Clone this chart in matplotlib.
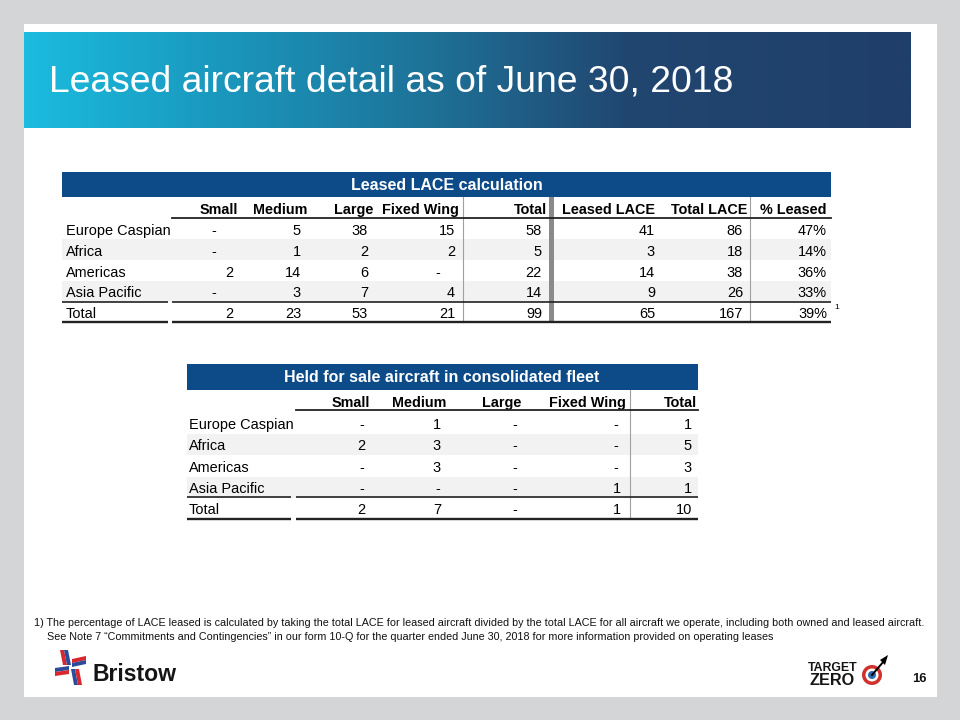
import matplotlib
matplotlib.use('Agg')
import matplotlib.pyplot as plt
from matplotlib.patches import Rectangle, Polygon, Circle
import numpy as np
from matplotlib.colors import LinearSegmentedColormap

plt.rcParams['font.family'] = ['Liberation Sans', 'DejaVu Sans']

# ---------------- data ----------------
TITLE = "Leased aircraft detail as of June 30, 2018"
regions = ["Europe Caspian", "Africa", "Americas", "Asia Pacific"]
total_label = "Total"

lace_title = "Leased LACE calculation"
lace_columns = ["Small", "Medium", "Large", "Fixed Wing", "Total",
                "Leased LACE", "Total LACE", "% Leased"]
lace_small = [0, 0, 2, 0]
lace_medium = [5, 1, 14, 3]
lace_large = [38, 2, 6, 7]
lace_fixed_wing = [15, 2, 0, 4]
lace_total = [58, 5, 22, 14]
leased_lace = [41, 3, 14, 9]
total_lace = [86, 18, 38, 26]
pct_leased = [47, 14, 36, 33]
lace_totals_row = [2, 23, 53, 21, 99, 65, 167, 39]

hfs_title = "Held for sale aircraft in consolidated fleet"
hfs_columns = ["Small", "Medium", "Large", "Fixed Wing", "Total"]
hfs_small = [0, 2, 0, 0]
hfs_medium = [1, 3, 3, 0]
hfs_large = [0, 0, 0, 0]
hfs_fixed_wing = [0, 0, 0, 1]
hfs_total = [1, 5, 3, 1]
hfs_totals_row = [2, 7, 0, 1, 10]

footnote_1 = ("1) The percentage of LACE leased is calculated by taking the total LACE for leased "
              "aircraft divided by the total LACE for all aircraft we operate, including both owned "
              "and leased aircraft.")
footnote_2 = ("See Note 7 \u201cCommitments and Contingencies\u201d in our form 10-Q for the quarter "
              "ended June 30, 2018 for more information provided on operating leases")
page_number = "16"

# ---------------- figure ----------------
PX = 0.72  # px -> pt at dpi 100
fig = plt.figure(figsize=(9.6, 7.2), dpi=100)
fig.patch.set_facecolor('#d4d5d7')
ax = fig.add_axes([0, 0, 1, 1])
ax.axis('off')

HEAD_BLUE = '#0c4a88'
SHADE = '#f2f2f2'

# white slide
ax.add_patch(Rectangle((24, 24), 913, 673, facecolor='white', edgecolor='none', zorder=0))

# title gradient bar
stops = [(0.0, '#1bbcdf'), (0.19, '#1a9cc2'), (0.45, '#1e7399'),
         (0.68, '#214670'), (1.0, '#1f3f6a')]
cmap = LinearSegmentedColormap.from_list('tb', stops)
grad = np.linspace(0, 1, 512).reshape(1, -1)
ax.imshow(grad, cmap=cmap, extent=(24, 911, 128, 32), aspect='auto', zorder=1)
ax.text(49, 92, TITLE, color='white', fontsize=37.3 * PX, ha='left', va='baseline', zorder=3)


def fmt(v, pct=False):
    if v == 0:
        return '-'
    return f"{v}%" if pct else f"{v}"


def draw_table(x0, x1, bar_top, bar_bot, title, title_cx, title_base,
               hdr_base, row_bases, total_base, label_x, columns, hdr_rights,
               val_rights, dash_offsets, data_cols, totals, pct_cols,
               shade_top, shade_bot):
    ax.add_patch(Rectangle((x0, bar_top), x1 - x0, bar_bot - bar_top,
                           facecolor=HEAD_BLUE, edgecolor='none', zorder=2))
    ax.text(title_cx, title_base, title, color='white', fontsize=16 * PX,
            fontweight='bold', ha='center', va='baseline', zorder=3)
    # shading alternate rows
    for i, b in enumerate(row_bases):
        if i % 2 == 1:
            ax.add_patch(Rectangle((x0, b - shade_top), x1 - x0, shade_top + shade_bot,
                                   facecolor=SHADE, edgecolor='none', zorder=1))
    # headers
    for c, r in zip(columns, hdr_rights):
        ax.text(r, hdr_base, c, fontsize=14.4 * PX, fontweight='bold',
                ha='right', va='baseline', color='black', zorder=3)
    # rows
    for i, (name, b) in enumerate(zip(regions, row_bases)):
        ax.text(label_x, b, name, fontsize=14.5 * PX, ha='left', va='baseline', zorder=3)
        for j, col in enumerate(data_cols):
            v = col[i]
            rx = val_rights[j] - (dash_offsets[j] if v == 0 else 0)
            ax.text(rx, b, fmt(v, j in pct_cols), fontsize=14.5 * PX,
                    ha='right', va='baseline', zorder=3)
    ax.text(label_x, total_base, total_label, fontsize=14.5 * PX, ha='left',
            va='baseline', zorder=3)
    for j, v in enumerate(totals):
        rx = val_rights[j] - (dash_offsets[j] if v == 0 else 0)
        ax.text(rx, total_base, fmt(v, j in pct_cols), fontsize=14.5 * PX,
                ha='right', va='baseline', zorder=3)


# ---------- table 1 ----------
t1_cols = [lace_small, lace_medium, lace_large, lace_fixed_wing, lace_total,
           leased_lace, total_lace, pct_leased]
draw_table(62, 831, 172, 197, lace_title, 446.5, 190,
           214.3, [235, 255.8, 276.6, 297.4], 318, 66, lace_columns,
           [238, 307, 373, 459, 547, 655, 747, 827],
           [233, 301, 368, 455, 542, 655, 743, 827],
           [16.5, 16.5, 16.5, 15, 16.5, 0, 0, 0],
           t1_cols, lace_totals_row, [7], 16.7, 4.3)
# vertical separators
ax.plot([463, 463], [197, 322], color='#a0a0a0', lw=0.8, zorder=2)
ax.add_patch(Rectangle((549, 197), 5, 125, facecolor='#8a8a8a', edgecolor='none', zorder=2))
ax.plot([750, 750], [197, 322], color='#a0a0a0', lw=0.8, zorder=2)
# horizontal rules
ax.plot([172, 831], [218.3, 218.3], color='#222222', lw=1.3, zorder=4)
for y, lw in [(301.7, 1.2), (321.7, 1.7)]:
    ax.plot([62, 168], [y, y], color='#222222', lw=lw, zorder=4, solid_capstyle='butt')
    ax.plot([172, 831], [y, y], color='#222222', lw=lw, zorder=4, solid_capstyle='butt')
ax.text(834, 309, '1', fontsize=8.5 * PX, ha='left', va='baseline', zorder=3)

# ---------- table 2 ----------
t2_cols = [hfs_small, hfs_medium, hfs_large, hfs_fixed_wing, hfs_total]
draw_table(186.5, 698, 364, 389.5, hfs_title, 442, 382.5,
           406.7, [429, 450.5, 472, 493.2], 513.8, 189, hfs_columns,
           [370, 446, 521, 626, 697],
           [365, 441, 517, 621, 692],
           [1, 1, 0, 3, 1],
           t2_cols, hfs_totals_row, [], 16.5, 4.5)
ax.plot([630, 630], [389.5, 519], color='#a0a0a0', lw=0.8, zorder=2)
ax.plot([296, 698], [410.2, 410.2], color='#222222', lw=1.3, zorder=4)
for y, lw in [(497.4, 1.2), (518.8, 1.7)]:
    ax.plot([186.5, 291], [y, y], color='#222222', lw=lw, zorder=4, solid_capstyle='butt')
    ax.plot([296, 698], [y, y], color='#222222', lw=lw, zorder=4, solid_capstyle='butt')

# ---------- footnote ----------
ax.text(34, 626.5, footnote_1, fontsize=10.7 * PX, ha='left', va='baseline', color='#111111')
ax.text(47, 639.5, footnote_2, fontsize=10.7 * PX, ha='left', va='baseline', color='#111111')

# ---------- Bristow logo ----------
RED = '#d7282f'
BLUE = '#2c4b9b'
blades = [
    # top (vertical stripes)
    ([(63, 665), (60, 650), (64, 650), (67, 665)], RED),
    ([(67, 665), (64, 650), (68, 650), (71, 665)], BLUE),
    # right (horizontal stripes)
    ([(72, 659), (86, 656), (86, 660), (72, 663)], RED),
    ([(72, 663), (86, 660), (86, 664), (72, 667)], BLUE),
    # bottom (vertical stripes)
    ([(71, 669), (74, 685), (78, 685), (75, 669)], BLUE),
    ([(75, 669), (78, 685), (82, 685), (79, 669)], RED),
    # left (horizontal stripes)
    ([(55, 668), (69, 666), (69, 670), (55, 672)], BLUE),
    ([(55, 672), (69, 670), (69, 674), (55, 676)], RED),
]
for pts, col in blades:
    ax.add_patch(Polygon(pts, closed=True, facecolor=col, edgecolor='none', zorder=3))
ax.text(92, 681, 'Bristow', fontsize=23 * PX, fontweight='bold', ha='left', va='baseline',
        color='#151515', zorder=3)

# ---------- Target Zero logo ----------
ax.text(808, 671, 'TARGET', fontsize=12.2 * PX, fontweight='bold', ha='left',
        va='baseline', color='#151515')
ax.text(809, 685, 'ZERO', fontsize=16.2 * PX, fontweight='bold', ha='left',
        va='baseline', color='#151515')
ax.add_patch(Circle((872, 675), 10, facecolor='#d0312d', edgecolor='none', zorder=3))
ax.add_patch(Circle((872, 675), 6.5, facecolor='white', edgecolor='none', zorder=4))
ax.add_patch(Circle((872, 675), 4, facecolor='#2b6cb0', edgecolor='none', zorder=5))
ax.plot([872, 884], [675, 661], color='black', lw=1.4, zorder=6)
ax.add_patch(Polygon([(880, 660), (888, 655), (885, 665)], closed=True,
                     facecolor='black', edgecolor='none', zorder=6))
ax.text(912, 682, page_number, fontsize=13 * PX, fontweight='bold', ha='left',
        va='baseline', color='#111111')

ax.set_xlim(0, 960)
ax.set_ylim(720, 0)
fig.savefig('out.png', dpi=100, facecolor=fig.get_facecolor())
